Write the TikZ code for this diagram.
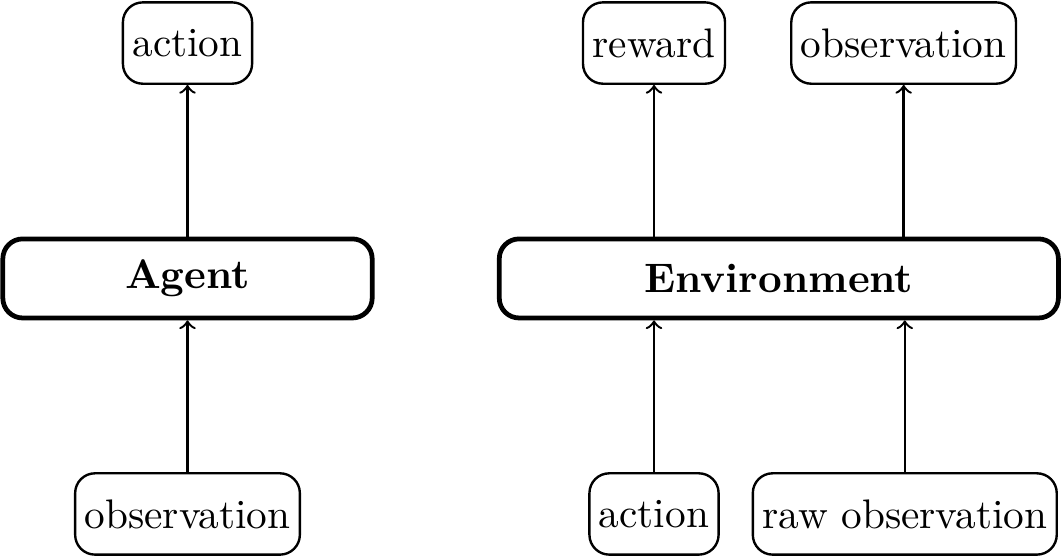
\documentclass[tikz,border=0pt]{standalone}
\usepackage{amsmath}
\usepackage{tikz}
\usetikzlibrary{positioning}

\begin{document}
\begin{tikzpicture}[
    font=\fontsize{10.4pt}{12.5pt}\selectfont,
    signal/.style={draw, semithick, rounded corners=5pt, minimum height=0.72cm, inner xsep=2.4pt},
    module/.style={draw, very thick, rounded corners=5pt, minimum height=0.70cm, font=\fontsize{10.4pt}{12.5pt}\selectfont\bfseries},
    >=to]
        \useasboundingbox (0,0) rectangle (9.393,4.931);
        % Modules
        \node[module, minimum width=3.27cm]  (agent) at (1.66,2.466) {Agent};
        \node[module, minimum width=4.95cm] (env)   at (6.895,2.466) {Environment};
        % Agent signals
        \node[signal] (agentact) at (1.66,4.55) {action};
        \node[signal] (agentobs) at (1.66,0.381) {observation};
        % Environment signals
        \node[signal] (reward)  at (5.79,4.55) {reward};
        \node[signal] (envobs)  at (8.0,4.55) {observation};
        \node[signal] (envact)  at (5.79,0.381) {action};
        \node[signal] (rawobs)  at (8.01,0.381) {raw observation};
        % Edges
        \draw[semithick,->] (agentobs) -- (agent);
        \draw[semithick,->] (agent) -- (agentact);
        \draw[semithick,->] (envact) -- (envact |- env.south);
        \draw[semithick,->] (rawobs) -- (rawobs |- env.south);
        \draw[semithick,->] (reward |- env.north) -- (reward);
        \draw[semithick,->] (envobs |- env.north) -- (envobs);
    \end{tikzpicture}
\end{document}
